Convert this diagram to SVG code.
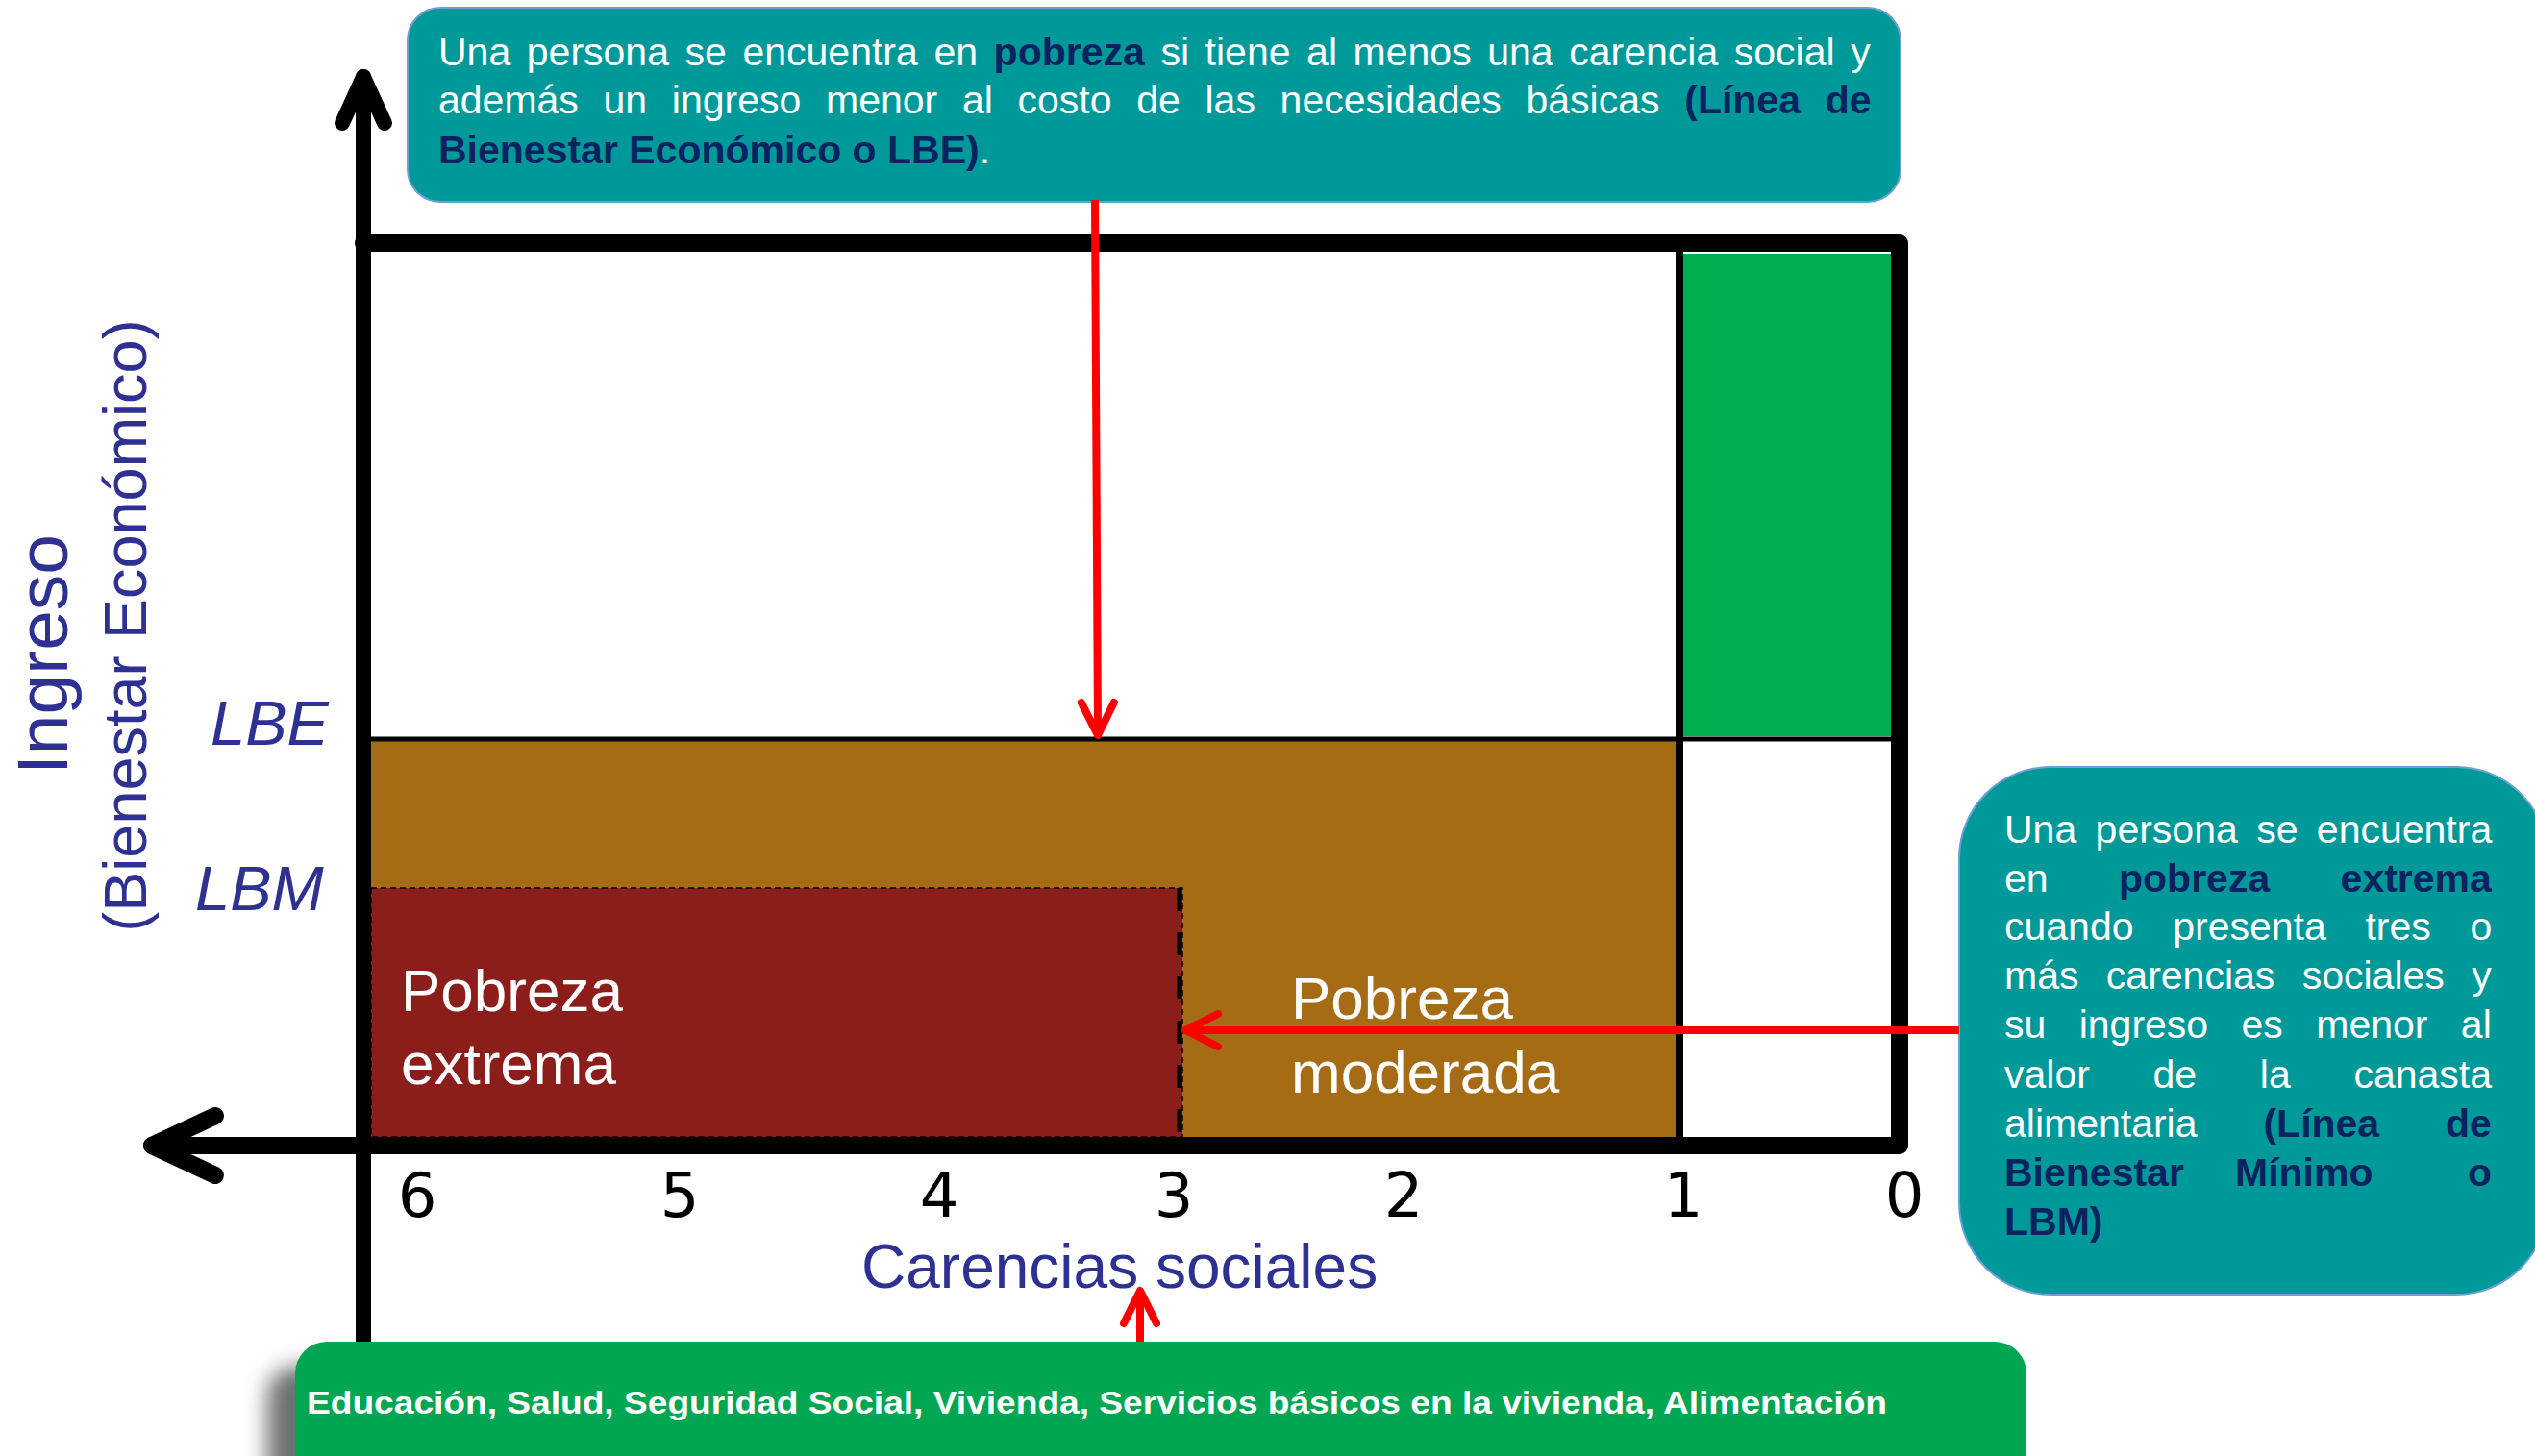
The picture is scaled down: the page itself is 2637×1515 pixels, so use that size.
<svg xmlns="http://www.w3.org/2000/svg" width="2637" height="1515" viewBox="0 0 2637 1515">
<defs>
<style>
.sans{font-family:"Liberation Sans",Arial,sans-serif}
.wt{fill:#ffffff}
.nv{fill:#0B2260;font-weight:bold}
.lbl{fill:#2E3192}
.callout{fill:#009999;stroke:#6A9FD8;stroke-width:2}
.axis{stroke:#000;fill:none;stroke-linecap:round;stroke-linejoin:round}
.red{stroke:#FF0000;stroke-width:8;fill:none;marker-end:url(#rh)}
.num{font-family:"DejaVu Sans",sans-serif;font-size:64px;fill:#000;text-anchor:middle}
.big{font-size:62px}
.rt{font-size:41px}
</style>
<marker id="rh" markerUnits="userSpaceOnUse" viewBox="-45 -25 50 50" markerWidth="50" markerHeight="50" refX="0" refY="0" orient="auto" overflow="visible">
<path d="M-34,-17 L0,0 L-34,17" fill="none" stroke="#FF0000" stroke-width="8" stroke-linecap="round" stroke-linejoin="round"/>
</marker>
<filter id="sh" x="-10%" y="-60%" width="120%" height="220%"><feGaussianBlur stdDeviation="11"/></filter>
</defs>
<rect x="0" y="0" width="2637" height="1515" fill="#ffffff"/>

<g id="chart">
<rect x="385" y="769" width="1362" height="416" fill="#A66B15"/>
<rect x="386" y="924" width="844" height="259" fill="#8B1E1A" stroke="#000" stroke-width="1.5" stroke-dasharray="6 4"/>
<line x1="1227" y1="924" x2="1227" y2="1183" stroke="#000" stroke-width="5" stroke-dasharray="24 22"/>
<rect x="1751" y="264" width="216" height="502" fill="#00AD4F"/>
<line x1="385" y1="769" x2="1976" y2="769" stroke="#000" stroke-width="5"/>
<line x1="1747" y1="253" x2="1747" y2="1192" stroke="#000" stroke-width="8"/>
<path class="axis" d="M378,253 H1976 V1192 H158" stroke-width="18"/>
<path class="axis" d="M224,1161 L158,1192 L224,1223" stroke-width="18"/>
<path class="axis" d="M378,1396 V80" stroke-width="16"/>
<path class="axis" d="M356,128 L378,80 L400,128" stroke-width="16"/>
</g>

<g id="zona-extrema">
<text class="sans wt big" x="417" y="1052">Pobreza</text>
<text class="sans wt big" x="417" y="1128">extrema</text>
</g>
<g id="zona-moderada">
<text class="sans wt big" x="1343" y="1060">Pobreza</text>
<text class="sans wt big" x="1343" y="1137">moderada</text>
</g>

<g id="eje-y-labels">
<text class="sans lbl" font-size="75" text-anchor="middle" transform="translate(70,681) rotate(-90)">Ingreso</text>
<text class="sans lbl" font-size="63" text-anchor="middle" transform="translate(152,651) rotate(-90)">(Bienestar Económico)</text>
<text class="sans lbl" font-size="65" font-style="italic" x="219" y="775">LBE</text>
<text class="sans lbl" font-size="65" font-style="italic" x="203" y="947">LBM</text>
</g>

<g id="eje-x-labels">
<text class="num" x="434" y="1266">6</text>
<text class="num" x="707" y="1266">5</text>
<text class="num" x="977" y="1266">4</text>
<text class="num" x="1221" y="1266">3</text>
<text class="num" x="1460" y="1266">2</text>
<text class="num" x="1751" y="1266">1</text>
<text class="num" x="1981" y="1266">0</text>
<text class="sans lbl" font-size="64" x="896" y="1340">Carencias sociales</text>
</g>

<g id="callout-pobreza">
<rect class="callout" x="424" y="8" width="1553" height="202" rx="34"/>
<text class="sans wt rt" x="456" y="68" word-spacing="5.2">Una persona se encuentra en <tspan class="nv">pobreza</tspan> si tiene al menos una carencia social y</text>
<text class="sans wt rt" x="456" y="118" word-spacing="14.3">además un ingreso menor al costo de las necesidades básicas <tspan class="nv">(Línea de</tspan></text>
<text class="sans wt rt" x="456" y="170"><tspan class="nv">Bienestar Económico o LBE)</tspan>.</text>
</g>

<g id="callout-extrema">
<rect class="callout" x="2038" y="798" width="612" height="549" rx="95"/>
<text class="sans wt rt" x="2085" y="877" word-spacing="8">Una persona se encuentra</text>
<text class="sans wt rt" x="2085" y="928" word-spacing="62">en <tspan class="nv">pobreza extrema</tspan></text>
<text class="sans wt rt" x="2085" y="978" word-spacing="29.3">cuando presenta tres o</text>
<text class="sans wt rt" x="2085" y="1029" word-spacing="17">más carencias sociales y</text>
<text class="sans wt rt" x="2085" y="1080" word-spacing="23">su ingreso es menor al</text>
<text class="sans wt rt" x="2085" y="1132" word-spacing="54.3">valor de la canasta</text>
<text class="sans wt rt" x="2085" y="1183" word-spacing="57.5">alimentaria <tspan class="nv">(Línea de</tspan></text>
<text class="sans rt nv" x="2085" y="1234">Bienestar <tspan x="2325">Mínimo</tspan> <tspan x="2567">o</tspan></text>
<text class="sans rt nv" x="2085" y="1285">LBM)</text>
</g>

<g id="caja-carencias">
<rect x="278" y="1422" width="1780" height="150" rx="30" fill="#707070" filter="url(#sh)"/>
<rect x="307" y="1396" width="1801" height="170" rx="33" fill="#00A651"/>
<text class="sans wt" font-weight="bold" font-size="34" x="319" y="1471" textLength="1644" lengthAdjust="spacingAndGlyphs">Educación, Salud, Seguridad Social, Vivienda, Servicios básicos en la vivienda, Alimentación</text>
</g>

<g id="connectors">
<line class="red" x1="1139" y1="208" x2="1142" y2="765"/>
<line class="red" x1="2038" y1="1072" x2="1233" y2="1072"/>
<line class="red" x1="1186" y1="1396" x2="1186" y2="1343"/>
</g>
</svg>
